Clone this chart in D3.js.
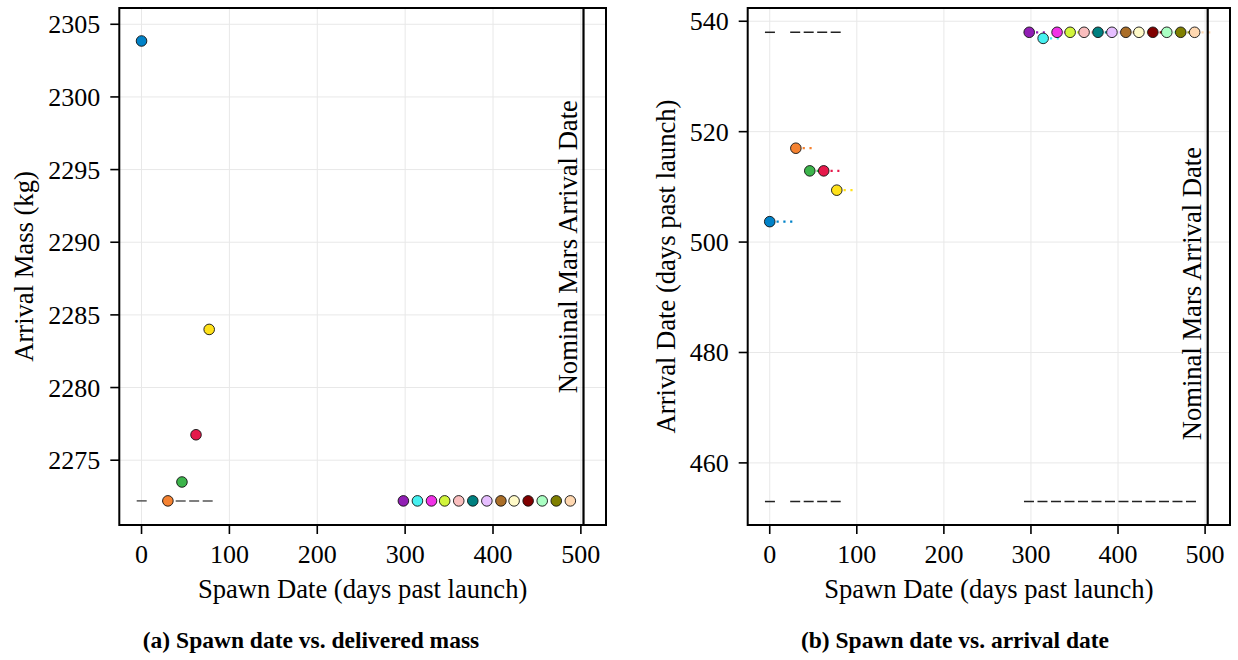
<!DOCTYPE html>
<html>
<head>
<meta charset="utf-8">
<script src="https://cdn.jsdelivr.net/npm/d3@7"></script>
<style>
  body { margin: 0; background: #fff; }
  svg { display: block; font-family: "Liberation Serif", "Times New Roman", serif; }
  .grid line { stroke: #e8e8e8; stroke-width: 1; }
  .tick-label { font-size: 26px; fill: #000; }
  .axis-label { font-size: 26.6px; fill: #000; }
  .caption { font-size: 23.5px; font-weight: bold; fill: #000; }
</style>
</head>
<body>
<svg id="chart" width="1238" height="660"></svg>
<script>
// spawn dates (days past launch), one per spawned craft
const spawnDays = [0, 30, 46, 62, 77, 298, 314, 330, 345, 361, 377, 393, 409, 424, 440, 456, 472, 488];
const arrivalMass = [2303.85, 2272.2, 2273.5, 2276.75, 2284.0,
  2272.2, 2272.2, 2272.2, 2272.2, 2272.2, 2272.2, 2272.2, 2272.2, 2272.2, 2272.2, 2272.2, 2272.2, 2272.2];
const arrivalDate = [503.7, 517.0, 512.9, 512.9, 509.4,
  538, 536.9, 538, 538, 538, 538, 538, 538, 538, 538, 538, 538, 538];
// dotted trails in panel (b) end here
const trailEnd = [27, 49, 64, 80, 96, 316, 332, 348, 363, 379, 395, 411, 427, 442, 458, 474, 490, 506];
const colors = ['#0082c8', '#f58231', '#3cb44b', '#e6194b', '#ffe119', '#911eb4', '#46f0f0', '#f032e6',
  '#d2f53c', '#fabebe', '#008080', '#e6beff', '#aa6e28', '#fffac8', '#800000', '#aaffc3', '#808000', '#ffd8b1'];

const xTicks = [0, 100, 200, 300, 400, 500];
const massTicks = [2275, 2280, 2285, 2290, 2295, 2300, 2305];
const dateTicks = [460, 480, 500, 520, 540];
const nominalArrival = 503;

const massDashes = [{ x0: -5.5, x1: 6.5, y: 2272.2 }, { x0: 23.5, x1: 84, y: 2272.2 }];
const dateDashes = [
  { x0: -5.5, x1: 6.5, y: 538 }, { x0: 23.5, x1: 84, y: 538 },
  { x0: -5.5, x1: 6.5, y: 453 }, { x0: 23.5, x1: 84, y: 453 },
  { x0: 292, x1: 493.5, y: 453 },
];

const svg = d3.select('#chart');

function panel (opts) {
  const { left, right, top, bottom, yDomain, yTicks, yValues, dashes, dashColor, trails, yLabel, caption, captionX, annoY } = opts;
  const x = d3.scaleLinear().domain([-25.3, 528.6]).range([left, right]);
  const y = d3.scaleLinear().domain(yDomain).range([bottom, top]);
  const g = svg.append('g');

  // grid
  const grid = g.append('g').attr('class', 'grid');
  grid.selectAll('line.gx').data(xTicks).join('line')
    .attr('x1', d => x(d)).attr('x2', d => x(d)).attr('y1', top).attr('y2', bottom);
  grid.selectAll('line.gy').data(yTicks).join('line')
    .attr('y1', d => y(d)).attr('y2', d => y(d)).attr('x1', left).attr('x2', right);

  // dashed reference lines
  g.selectAll('line.dash').data(dashes).join('line')
    .attr('x1', d => x(d.x0)).attr('x2', d => x(d.x1))
    .attr('y1', d => y(d.y)).attr('y2', d => y(d.y))
    .attr('stroke', dashColor).attr('stroke-width', 1.5)
    .attr('stroke-dasharray', '10,3.5');

  const pts = spawnDays.map((s, i) => ({ s, v: yValues[i], c: colors[i], e: trailEnd[i] }));

  if (trails) {
    g.selectAll('line.trail').data(pts).join('line')
      .attr('x1', d => x(d.s)).attr('x2', d => x(d.e))
      .attr('y1', d => y(d.v)).attr('y2', d => y(d.v))
      .attr('stroke', d => d.c).attr('stroke-width', 2.2)
      .attr('stroke-dasharray', '2.2,4.6');
  }

  // nominal arrival
  g.append('line')
    .attr('x1', x(nominalArrival)).attr('x2', x(nominalArrival))
    .attr('y1', top).attr('y2', bottom)
    .attr('stroke', '#000').attr('stroke-width', 2.2);
  g.append('text')
    .attr('transform', `translate(${x(nominalArrival) - 7},${y(annoY)}) rotate(-90)`)
    .attr('class', 'axis-label')
    .text('Nominal Mars Arrival Date');

  g.selectAll('circle').data(pts).join('circle')
    .attr('cx', d => x(d.s)).attr('cy', d => y(d.v)).attr('r', 5.3)
    .attr('fill', d => d.c).attr('stroke', '#111').attr('stroke-width', 0.9);

  // frame
  g.append('rect').attr('x', left).attr('y', top)
    .attr('width', right - left).attr('height', bottom - top)
    .attr('fill', 'none').attr('stroke', '#000').attr('stroke-width', 2);

  // ticks
  g.selectAll('line.tx').data(xTicks).join('line')
    .attr('x1', d => x(d)).attr('x2', d => x(d)).attr('y1', bottom).attr('y2', bottom + 9)
    .attr('stroke', '#000').attr('stroke-width', 1.6);
  g.selectAll('text.tx').data(xTicks).join('text')
    .attr('class', 'tick-label').attr('x', d => x(d)).attr('y', bottom + 38)
    .attr('text-anchor', 'middle').text(d => d);
  g.selectAll('line.ty').data(yTicks).join('line')
    .attr('y1', d => y(d)).attr('y2', d => y(d)).attr('x1', left - 9).attr('x2', left)
    .attr('stroke', '#000').attr('stroke-width', 1.6);
  g.selectAll('text.ty').data(yTicks).join('text')
    .attr('class', 'tick-label').attr('x', left - 19).attr('y', d => y(d) + 9)
    .attr('text-anchor', 'end').text(d => d);

  // labels
  g.append('text').attr('class', 'axis-label')
    .attr('x', (left + right) / 2).attr('y', bottom + 73)
    .attr('text-anchor', 'middle').text('Spawn Date (days past launch)');
  g.append('text').attr('class', 'axis-label')
    .attr('transform', `translate(${opts.yLabelX},${(top + bottom) / 2}) rotate(-90)`)
    .attr('text-anchor', 'middle').text(yLabel);
  g.append('text').attr('class', 'caption')
    .attr('x', captionX).attr('y', 648)
    .attr('text-anchor', 'middle').text(caption);
}

panel({
  left: 119.3, right: 606, top: 8, bottom: 525,
  yDomain: [2270.54, 2306.12], yTicks: massTicks, yValues: arrivalMass,
  dashes: massDashes, dashColor: '#555', trails: false,
  yLabel: 'Arrival Mass (kg)', yLabelX: 33,
  caption: '(a) Spawn date vs. delivered mass', captionX: 311, annoY: 2279.6,
});
panel({
  left: 747.7, right: 1230, top: 8, bottom: 525,
  yDomain: [448.75, 542.4], yTicks: dateTicks, yValues: arrivalDate,
  dashes: dateDashes, dashColor: '#222', trails: true,
  yLabel: 'Arrival Date (days past launch)', yLabelX: 675,
  caption: '(b) Spawn date vs. arrival date', captionX: 955, annoY: 464.1,
});
</script>
</body>
</html>
